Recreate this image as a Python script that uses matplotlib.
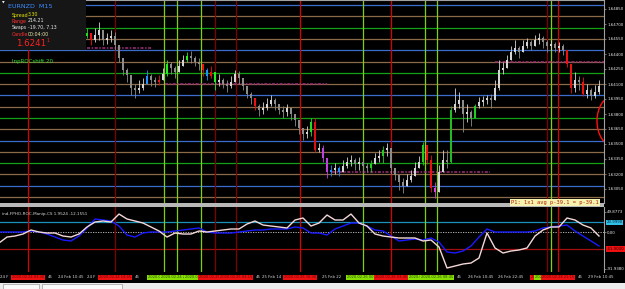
import matplotlib
matplotlib.use("Agg")
import matplotlib.pyplot as plt
from matplotlib.patches import Rectangle, Arc

W, H = 625, 289

# ---- EURNZD M15 candles (bar index 0 = first visible candle) ----
first_open = 1.6458
closes = [1.6461, 1.6454, 1.6459, 1.6464, 1.6454, 1.6456, 1.6458, 1.6449, 1.6436, 1.6424,
          1.6419, 1.6406, 1.6404, 1.6406, 1.6410, 1.6418, 1.6414, 1.6412, 1.6414, 1.6420,
          1.6430, 1.6426, 1.6422, 1.6428, 1.6434, 1.6438, 1.6436, 1.6432, 1.6430, 1.6424,
          1.6418, 1.6422, 1.6412, 1.6414, 1.6410, 1.6408, 1.6412, 1.6420, 1.6416, 1.6408,
          1.6400, 1.6396, 1.6388, 1.6384, 1.6386, 1.6390, 1.6394, 1.6390, 1.6384, 1.6382,
          1.6386, 1.6380, 1.6374, 1.6366, 1.6360, 1.6362, 1.6372, 1.6344, 1.6346, 1.6336,
          1.6322, 1.6324, 1.6326, 1.6322, 1.6328, 1.6332, 1.6334, 1.6330, 1.6332, 1.6328,
          1.6326, 1.6330, 1.6336, 1.6338, 1.6344, 1.6346, 1.6326, 1.6319, 1.6312, 1.6308,
          1.6314, 1.6318, 1.6326, 1.6332, 1.6349, 1.6334, 1.6306, 1.6302, 1.6322, 1.6334,
          1.6332, 1.6384, 1.6390, 1.6394, 1.6380, 1.6382, 1.6376, 1.6388, 1.6392, 1.6394,
          1.6396, 1.6394, 1.6406, 1.6424, 1.6426, 1.6434, 1.6442, 1.6446, 1.6442, 1.6448,
          1.6452, 1.6448, 1.6454, 1.6456, 1.6452, 1.6448, 1.6450, 1.6446, 1.6448, 1.6444,
          1.6430, 1.6406, 1.6414, 1.6412, 1.6400, 1.6404, 1.6398, 1.6402, 1.6408]
highs = [1.6466, 1.6461, 1.6466, 1.6472, 1.6459, 1.6461, 1.6464, 1.6462, 1.6446, 1.6434,
         1.6426, 1.6412, 1.6410, 1.6414, 1.6416, 1.6424, 1.6420, 1.6417, 1.6419, 1.6426,
         1.6434, 1.6432, 1.6428, 1.6434, 1.6439, 1.6442, 1.6443, 1.6438, 1.6436, 1.6430,
         1.6426, 1.6428, 1.6422, 1.6420, 1.6416, 1.6414, 1.6418, 1.6424, 1.6423, 1.6416,
         1.6408, 1.6402, 1.6396, 1.6390, 1.6392, 1.6396, 1.6399, 1.6396, 1.6390, 1.6388,
         1.6390, 1.6386, 1.6380, 1.6374, 1.6366, 1.6368, 1.6376, 1.6376, 1.6351, 1.6349,
         1.6336, 1.6329, 1.6331, 1.6328, 1.6334, 1.6337, 1.6339, 1.6336, 1.6337, 1.6334,
         1.6331, 1.6334, 1.6341, 1.6344, 1.6348, 1.6351, 1.6334, 1.6326, 1.6318, 1.6316,
         1.6320, 1.6324, 1.6332, 1.6338, 1.6352, 1.6346, 1.6339, 1.6312, 1.6329, 1.6344,
         1.6344, 1.6388, 1.6406, 1.6402, 1.6394, 1.6390, 1.6384, 1.6390, 1.6397, 1.6398,
         1.6399, 1.6400, 1.6414, 1.6434, 1.6432, 1.6439, 1.6448, 1.6454, 1.6448, 1.6454,
         1.6456, 1.6454, 1.6459, 1.6461, 1.6458, 1.6454, 1.6454, 1.6452, 1.6452, 1.6450,
         1.6442, 1.6426, 1.6422, 1.6418, 1.6417, 1.6410, 1.6406, 1.6409, 1.6414]
lows = [1.6456, 1.6449, 1.6452, 1.6454, 1.6449, 1.6450, 1.6452, 1.6444, 1.6432, 1.6419,
        1.6412, 1.6399, 1.6396, 1.6401, 1.6404, 1.6412, 1.6408, 1.6407, 1.6409, 1.6416,
        1.6418, 1.6420, 1.6416, 1.6422, 1.6429, 1.6432, 1.6431, 1.6428, 1.6424, 1.6418,
        1.6414, 1.6416, 1.6404, 1.6408, 1.6406, 1.6402, 1.6406, 1.6412, 1.6410, 1.6404,
        1.6396, 1.6390, 1.6384, 1.6378, 1.6380, 1.6384, 1.6388, 1.6384, 1.6380, 1.6376,
        1.6378, 1.6374, 1.6368, 1.6360, 1.6354, 1.6356, 1.6358, 1.6342, 1.6342, 1.6332,
        1.6316, 1.6318, 1.6320, 1.6318, 1.6322, 1.6326, 1.6328, 1.6324, 1.6324, 1.6322,
        1.6322, 1.6322, 1.6330, 1.6332, 1.6331, 1.6338, 1.6320, 1.6314, 1.6304, 1.6301,
        1.6308, 1.6312, 1.6320, 1.6326, 1.6329, 1.6330, 1.6302, 1.6296, 1.6314, 1.6326,
        1.6326, 1.6331, 1.6382, 1.6386, 1.6362, 1.6372, 1.6368, 1.6376, 1.6386, 1.6388,
        1.6390, 1.6386, 1.6394, 1.6404, 1.6420, 1.6428, 1.6436, 1.6440, 1.6436, 1.6442,
        1.6446, 1.6444, 1.6448, 1.6450, 1.6446, 1.6442, 1.6444, 1.6442, 1.6442, 1.6439,
        1.6427, 1.6401, 1.6402, 1.6404, 1.6398, 1.6396, 1.6394, 1.6396, 1.6400]
# highlighted candles (index -> colour)
special = {0: '#22dd22', 1: '#ee1111', 15: '#2090ff', 18: '#ee1111', 20: '#22ee22',
           25: '#22ee22', 29: '#ee1111', 30: '#2090ff', 31: '#ee1111', 32: '#22ee22',
           42: '#ee1111', 56: '#22dd22', 57: '#dd1111', 59: '#c040e0', 60: '#c040e0',
           61: '#2090ff', 63: '#2090ff', 71: '#22cc22', 74: '#22cc22', 84: '#22cc22',
           85: '#ee1111', 86: '#ee1111', 87: '#e040e0', 91: '#22bb22', 97: '#22cc22',
           120: '#ee1111', 121: '#ee1111', 124: '#ee1111'}

price_ticks = [1.6485, 1.6470, 1.6455, 1.6440, 1.6425, 1.6410, 1.6395, 1.6380,
               1.6365, 1.6350, 1.6335, 1.6320, 1.6305]
levels = [1.6489, 1.6478, 1.6466, 1.6455, 1.6444, 1.6432, 1.6421, 1.6410, 1.6399,
          1.6387, 1.6376, 1.6365, 1.6353, 1.6342, 1.6331, 1.6320, 1.6308, 1.6297]
level_colors = ['#3a6ccc', '#8a6a48', '#14a014', '#8a6a48']
# dashed magenta pivots: (from bar, to bar, price)
pivots = [(0, 16.25, 1.6446), (19.5, 60, 1.6410), (61.25, 100.75, 1.6322), (102, 129.25, 1.6432)]

# vertical time markers
vline_bars = [-14.75, 7, 19.25, 22.5, 28.5, 32, 37.25, 53.25, 69, 76, 84.5, 87.5, 115, 116, 117.75]
vline_kind = ['red', 'dark', 'green', 'green', 'green', 'dark', 'dark', 'red', 'green', 'red',
              'green', 'green', 'dark', 'green', 'red']
vline_times = ['2020.02.24 03:30', '2020.02.24 14:45', '2020.02.24 20:00', '2020.02.24 21:30',
               '2020.02.25 00:00', '2020.02.25 02:00', '2020.02.25 04:15', '2020.02.25 16:30',
               '2020.02.26 00:30', '2020.02.26 03:45', '2020.02.26 07:30', '2020.02.26 08:45',
               '2020.02.28 20:00', '2020.02.28 20:30', '2020.02.28 21:15']

# time-axis labels, as far as they show between the marker boxes
time_bars = [-21.75, -9.75, -7.25, 0, 12, 42.25, 43.75, 58.75, 92.5, 95.25, 102.75, 122.75, 125.25]
time_labels = ['24 F', '45', '24 Feb 10:45', '24 F', '45', '45', '25 Feb 14', '25 Feb 22',
               '45', '26 Feb 10:45', '26 Feb 22:45', '45', '29 Feb 10:45']

# ---- ROC indicator, one value every 2 bars from bar -22 ----
ind_bars = list(range(-22, 129, 2))
roc_blue = [0, 0, 0, 0, 2.5, 0, -5, -12.5, -19.9, -22.4, -10, 10, 32.4, 29.9, 27.4, 14.9,
            -7.5, -12.5, -2.5, 0, 0, 0, 2.5, 5, 7.5, 10, 0, -2.5, -2.5, -2.5, 0, 2.5, 5, 5,
            7.5, 7.5, 7.5, 12.5, 10, -2.5, -2.5, -7.5, 7.5, 14.9, 22.4, 22.4, 14.9, 5, 2.5,
            -10, -22.4, -19.9, -17.4, -19.9, -14.9, -24.9, -49.8, -52.3, -47.3, -34.9, -12.5,
            7.5, 0, 0, 0, 0, 0, 2.5, 10, 12.5, 14.9, 17.4, 2.5, -10, -22.4, -34.9]
roc_white = [-27.4, -12.5, -10, -5, 5, 0, -2.5, -2.5, -10, -12.5, -5, 12.5, 24.9, 27.4, 24.9,
             44.8, 32.4, 27.4, 22.4, 12.5, 2.5, -12.5, -2.5, -5, -5, 2.5, 0, 2.5, 5, 7.5, 7.5,
             19.9, 27.4, 17.4, 14.9, 12.5, 10, 29.9, 34.9, 14.9, 22.4, 42.3, 29.9, 29.9, 44.8,
             22.4, 14.9, -5, -10, -12.5, -14.9, -14.9, -14.9, -22.4, -19.9, -37.4, -89.6,
             -84.7, -79.7, -77.2, -64.7, -2.5, -39.8, -52.3, -47.3, -44.8, -39.8, -10, 5,
             12.5, 12.5, 34.9, 29.9, 17.4, 10, -10]
roc_upper, roc_lower = 23.999, -41.9


def fx(px):
    return px / W


def fy(py):
    return 1 - py / H


fig = plt.figure(figsize=(W / 100, H / 100), dpi=100, facecolor='black')
ax = fig.add_axes([0, fy(203), fx(604), 203 / H])
ax2 = fig.add_axes([0, fy(272), fx(604), 65 / H])

for a in (ax, ax2):
    a.set_facecolor('black')
    a.set_xlim(-21.75, 129.25)
    a.set_xticks([])
    for s in ('left', 'bottom', 'top'):
        a.spines[s].set_visible(False)
    a.spines['right'].set_color('#a0a0a0')
    a.spines['right'].set_linewidth(0.8)
    a.yaxis.tick_right()
    a.tick_params(axis='y', colors='#a0a0a0', labelcolor='#e8e8e8', labelsize=2.9,
                  length=1.5, width=0.5, pad=0.8)
ax.spines['top'].set_visible(True)
ax.spines['top'].set_color('#a0a0a0')

# main price panel
ax.set_ylim(1.6291, 1.6494)
ax.set_yticks(price_ticks)
ax.set_yticklabels([f'{p:.5f}' for p in price_ticks])

for j, lv in enumerate(levels):
    ax.axhline(lv, color=level_colors[j % 4], lw=0.9, zorder=1)
for x0, x1, p in pivots:
    ax.hlines(p, x0, x1, color='#a0307a', lw=1.1, linestyles=(0, (2, 1, 1, 1)), zorder=2)

vcol = {'red': '#d80000', 'dark': '#800000', 'green': '#80d010'}
for b, k in zip(vline_bars, vline_kind):
    ax.axvline(b, color=vcol[k], lw=0.9, zorder=1.5)
    ax2.axvline(b, color=vcol[k], lw=0.9, zorder=1.5)

opens = [first_open] + closes[:-1]
for i, (o, c, hi, lo) in enumerate(zip(opens, closes, highs, lows)):
    col = special.get(i, '#d4d4d4' if c >= o else '#8c8c8c')
    ax.vlines(i, min(lo, o, c), max(hi, o, c), color=col, lw=0.6, zorder=3)
    ax.bar(i, max(abs(c - o), 0.00005), bottom=min(o, c), width=0.5, color=col,
           linewidth=0, zorder=4)

ax.add_patch(Arc((131.25, 1.6373), 7.5, 0.0048, theta1=90, theta2=270,
                 color='#ff1010', lw=1.0, zorder=5))

# indicator panel
ax2.set_ylim(-99.6, 62.3)
ax2.set_yticks([49.8773, 0, -91.938])
ax2.set_yticklabels(['49.8773', '0.00', '-91.9380'])
ax2.axhline(roc_upper, color='#1a92bc', lw=0.9, zorder=1)
ax2.axhline(0, color='#c8c8c8', lw=0.6, ls=(0, (1.5, 1.5)), zorder=1)
ax2.axhline(roc_lower, color='#a01010', lw=0.9, zorder=1)
ax2.plot(ind_bars, roc_blue, color='#1a1aff', lw=1.0, zorder=3)
ax2.plot(ind_bars, roc_white, color='#f4d8d8', lw=1.0, zorder=4)
ytr = ax2.get_yaxis_transform()
ax2.text(1.004, roc_upper, '23.9990', transform=ytr, fontsize=2.8, color='#002030', va='center',
         bbox=dict(facecolor='#30c0e8', edgecolor='none', pad=0.5), clip_on=False)
ax2.text(1.004, roc_lower, '-41.9000', transform=ytr, fontsize=2.8, color='#300000', va='center',
         bbox=dict(facecolor='#ee1010', edgecolor='none', pad=0.5), clip_on=False)
ax2.text(0.004, 0.9, 'ind-FPHO-ROC-Manip-CS 1.9524 -12.1551', transform=ax2.transAxes,
         fontsize=3, color='#d8d8d8', va='center')

# time axis
xtr = ax2.get_xaxis_transform()
ty = -5.5 / 65
for b, t in zip(time_bars, time_labels):
    ax2.text(b, ty, t, transform=xtr, fontsize=2.8, color='#d8d8d8', va='center',
             ha='left', clip_on=False)
for b, k, t in zip(vline_bars, vline_kind, vline_times):
    green = k == 'green'
    ax2.text(b, ty, t, transform=xtr, fontsize=2.6, va='center', ha='center',
             color='#2a4a00' if green else '#6a0000', clip_on=False, zorder=6,
             bbox=dict(facecolor='#88e000' if green else '#ee1111', edgecolor='none', pad=0.5))

# panel separator and bottom tab strip
fig.add_artist(Rectangle((0, fy(207)), fx(604), 4 / H, transform=fig.transFigure,
                         facecolor='#b8b8b8', edgecolor='none'))
fig.add_artist(Rectangle((0, 0), 1, 6 / H, transform=fig.transFigure,
                         facecolor='#ececec', edgecolor='none'))
for x0, w in [(3, 36), (42, 80)]:
    fig.add_artist(Rectangle((fx(x0), 0.5 / H), fx(w), 5 / H, transform=fig.transFigure,
                             facecolor='#fafafa', edgecolor='#9a9a9a', lw=0.5))

# info panel top-left
fig.add_artist(Rectangle((0, fy(50)), fx(86), 50 / H, transform=fig.transFigure,
                         facecolor='#161616', edgecolor='none', zorder=5))
info = [(2, 3, '\u25bc', '#ffffff', 2.5), (8, 6, 'EURNZD  M15', '#3c8cff', 4.6),
        (12, 15, 'Spread', '#e6e600', 3.4), (28, 15, '3.30', '#e6e600', 3.4),
        (12, 21, 'Range', '#ff3030', 3.4), (28, 21, '214.21', '#e8e8e8', 3.4),
        (12, 27, 'Swaps', '#e8e8e8', 3.4), (28, 27, '-19.70, 7.13', '#e8e8e8', 3.4),
        (12, 34, 'Candle', '#ff3030', 3.4), (28, 34, '00:04:00', '#e8e8b0', 3.4),
        (16, 43, '1.6241', '#ff2020', 6.2), (46, 41, '1', '#ff2020', 3.5),
        (12, 62, 'InpROCshift 20', '#30e030', 4.0)]
for px, py, t, c, fs in info:
    fig.text(fx(px), fy(py), t, color=c, fontsize=fs, va='center', ha='left', zorder=6)

fig.text(fx(555), fy(202.5), 'P1: 1x1 avg p-39.1 = p-39.1', family='DejaVu Sans Mono',
         fontsize=3.9, color='#b02000', ha='center', va='center', zorder=7,
         bbox=dict(facecolor='#f6f2b0', edgecolor='none', pad=0.8))

fig.savefig('out.png', dpi=100, facecolor='black')
